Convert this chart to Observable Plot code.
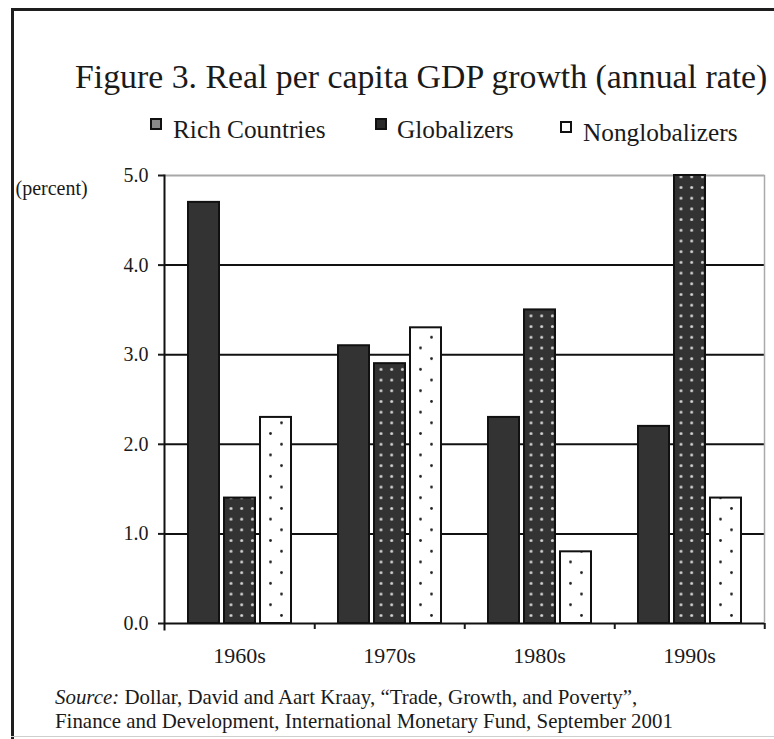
<!DOCTYPE html>
<html>
<head>
<meta charset="utf-8">
<script src="https://cdn.jsdelivr.net/npm/d3@7"></script>
<script src="https://cdn.jsdelivr.net/npm/@observablehq/plot@0.6"></script>
<style>
  body { margin: 0; background: #fff; }
  #page { position: relative; width: 774px; height: 739px; overflow: hidden; background: #fff;
          font-family: "Liberation Serif", "Times New Roman", serif; color: #1a1a1a; }
  .abs { position: absolute; white-space: nowrap; line-height: 1; }
  #frameTop { position: absolute; left: 11px; top: 8px; right: 0; height: 3px; background: #1e1e1e; }
  #frameLeft { position: absolute; left: 11px; top: 8px; bottom: 0; width: 2.5px; background: #1e1e1e; }
  #frameBottom { position: absolute; left: 11px; top: 736px; right: 0; height: 1px; background: #cfcfcf; }
  #title { left: 75px; top: 60px; font-size: 33.8px; }
  .legItem { position: absolute; white-space: nowrap; line-height: 1; font-size: 25.3px; }
  .swatch { position: absolute; width: 12px; height: 12px; box-sizing: border-box; border: 2px solid #111; }
  #chart { position: absolute; left: 0; top: 150px; }
  #source { position: absolute; left: 55px; top: 685px; font-size: 20.9px; line-height: 24px; white-space: nowrap; }
</style>
</head>
<body>
<div id="page">
  <div id="frameTop"></div>
  <div id="frameLeft"></div>
  <div id="frameBottom"></div>
  <div id="title" class="abs">Figure 3. Real per capita GDP growth (annual rate)</div>
  <div id="legend"></div>
  <div id="chart"></div>
  <div id="source"><i>Source:</i> Dollar, David and Aart Kraay, “Trade, Growth, and Poverty”,<br>Finance and Development, International Monetary Fund, September 2001</div>
</div>
<script>
// ---- data ----
const decades = ["1960s", "1970s", "1980s", "1990s"];
const series = ["Rich Countries", "Globalizers", "Nonglobalizers"];
const rich = [4.7, 3.1, 2.3, 2.2];
const globalizers = [1.4, 2.9, 3.5, 5.0];
const nonglobalizers = [2.3, 3.3, 0.8, 1.4];
const yTicks = [0, 1, 2, 3, 4, 5];
const gridValues = [1, 2, 3, 4];

// ---- styles ----
const barFill = {
  "Rich Countries": "#333333",
  "Globalizers": "url(#pat-glob)",
  "Nonglobalizers": "url(#pat-non)"
};
const legendFill = {
  "Rich Countries": "#8a8a8a",
  "Globalizers": "#2a2a2a",
  "Nonglobalizers": "#ffffff"
};
const legendLayout = {
  "Rich Countries": {sx: 150, sy: 118, tx: 173, ty: 117},
  "Globalizers": {sx: 375, sy: 118, tx: 397, ty: 117},
  "Nonglobalizers": {sx: 560, sy: 121, tx: 583, ty: 120}
};

const values = {"Rich Countries": rich, "Globalizers": globalizers, "Nonglobalizers": nonglobalizers};
const data = decades.flatMap((d, i) => series.map(s => ({decade: d, series: s, value: values[s][i]})));

// ---- legend ----
const legend = document.getElementById("legend");
for (const s of series) {
  const L = legendLayout[s];
  const sw = document.createElement("div");
  sw.className = "swatch";
  sw.style.left = L.sx + "px"; sw.style.top = L.sy + "px";
  sw.style.background = legendFill[s];
  legend.appendChild(sw);
  const t = document.createElement("div");
  t.className = "legItem";
  t.style.left = L.tx + "px"; t.style.top = L.ty + "px";
  t.textContent = s;
  legend.appendChild(t);
}

// ---- chart ----
const chart = Plot.plot({
  width: 774,
  height: 520,
  marginLeft: 163,
  marginRight: 9,
  marginTop: 25,
  marginBottom: 47,
  style: {fontFamily: "Liberation Serif, Times New Roman, serif", background: "transparent", color: "#1a1a1a", overflow: "visible"},
  fx: {domain: decades, padding: 0, label: null},
  x: {domain: series, paddingInner: 0.15, paddingOuter: 0.64, axis: null},
  y: {domain: [0, 5], axis: null},
  color: {type: "identity"},
  marks: [
    Plot.ruleY(gridValues, {stroke: "#111", strokeWidth: 2}),
    Plot.ruleY([5], {stroke: "#a8a8a8", strokeWidth: 2}),
    Plot.frame({facet: "super", anchor: "right", stroke: "#aaa", strokeWidth: 1.5}),
    Plot.barY(data, {fx: "decade", x: "series", y: "value", fill: d => barFill[d.series], stroke: "#111", strokeWidth: 2}),
    Plot.ruleY([0], {stroke: "#111", strokeWidth: 2}),
    Plot.frame({facet: "super", anchor: "left", stroke: "#111", strokeWidth: 2, insetBottom: -6}),
    Plot.axisY({ticks: yTicks, tickFormat: d3.format(".1f"), tickSize: 6, tickPadding: 10, fontSize: 20, strokeWidth: 2, label: null}),
    Plot.axisFx({anchor: "bottom", tickSize: 0, tickPadding: 24, fontSize: 22, label: null}),
    Plot.axisFx({anchor: "bottom", text: null, tickSize: 6, strokeWidth: 2, dx: 75.25, label: null}),
    Plot.text(["(percent)"], {facet: "super", text: d => d, frameAnchor: "top-left", textAnchor: "start", dx: -149, dy: 5, fontSize: 20})
  ]
});

// patterns
const defs = d3.select(chart).insert("defs", ":first-child");
const pg = defs.append("pattern").attr("id", "pat-glob").attr("patternUnits", "userSpaceOnUse")
  .attr("width", 10.7).attr("height", 10.7);
pg.append("rect").attr("width", 10.7).attr("height", 10.7).attr("fill", "#333");
pg.append("circle").attr("cx", 5.3).attr("cy", 5.3).attr("r", 1.5).attr("fill", "#d6d6d6");
const pn = defs.append("pattern").attr("id", "pat-non").attr("patternUnits", "userSpaceOnUse")
  .attr("width", 22).attr("height", 21.4);
pn.append("rect").attr("width", 22).attr("height", 21.4).attr("fill", "#fff");
pn.append("circle").attr("cx", 5.5).attr("cy", 5.3).attr("r", 1.4).attr("fill", "#222");
pn.append("circle").attr("cx", 16.5).attr("cy", 16).attr("r", 1.4).attr("fill", "#222");

document.getElementById("chart").appendChild(chart);
</script>
</body>
</html>
